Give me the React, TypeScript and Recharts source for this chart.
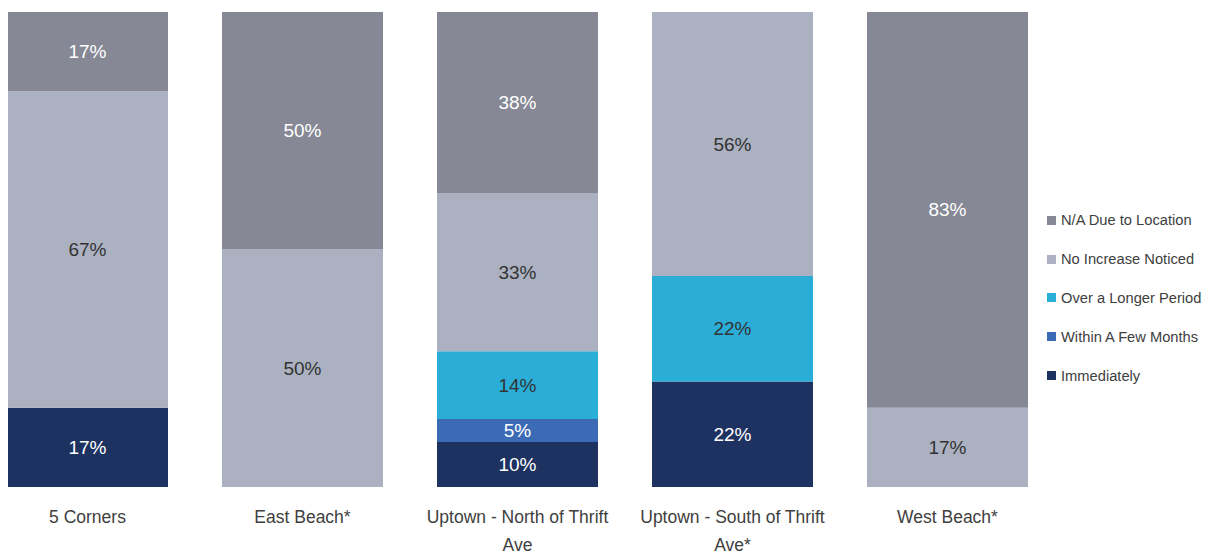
import React from "react";
import { BarChart, Bar, XAxis, YAxis, LabelList } from "recharts";

const categories = [
  "5 Corners",
  "East Beach*",
  "Uptown - North of Thrift Ave",
  "Uptown - South of Thrift Ave*",
  "West Beach*",
];
const immediately = [16.7, 0, 9.5, 22.2, 0];
const withinFewMonths = [0, 0, 4.8, 0, 0];
const overLongerPeriod = [0, 0, 14.3, 22.2, 0];
const noIncreaseNoticed = [66.6, 50, 33.3, 55.6, 16.7];
const naDueToLocation = [16.7, 50, 38.1, 0, 83.3];

const seriesDefs = [
  { key: "imm", name: "Immediately", values: immediately, color: "#1d3260", label: "#ffffff" },
  { key: "few", name: "Within A Few Months", values: withinFewMonths, color: "#3b6bb5", label: "#ffffff" },
  { key: "long", name: "Over a Longer Period", values: overLongerPeriod, color: "#2aaed8", label: "#333333" },
  { key: "noinc", name: "No Increase Noticed", values: noIncreaseNoticed, color: "#abb1c1", label: "#333333" },
  { key: "na", name: "N/A Due to Location", values: naDueToLocation, color: "#868995", label: "#ffffff" },
];

const rows = categories.map((c, i) => {
  const r: any = { name: c };
  seriesDefs.forEach((s) => (r[s.key] = s.values[i]));
  return r;
});

const FONT = "'Liberation Sans', Arial, sans-serif";

function wrap(text: string, maxChars: number): string[] {
  const words = text.split(" ");
  const lines: string[] = [];
  let cur = "";
  words.forEach((w) => {
    const t = cur ? cur + " " + w : w;
    if (t.length > maxChars && cur) {
      lines.push(cur);
      cur = w;
    } else cur = t;
  });
  if (cur) lines.push(cur);
  return lines;
}

const Tick = (props: any) => {
  const { x, y, payload } = props;
  const lines = wrap(String(payload.value), 25);
  return (
    <text x={x} y={y} textAnchor="middle" fill="#404040" fontSize={17.5} fontFamily={FONT}>
      {lines.map((l, i) => (
        <tspan key={i} x={x} y={y + 28 + i * 28}>
          {l}
        </tspan>
      ))}
    </text>
  );
};

const makeLabel = (color: string) => (props: any) => {
  const { x, y, width, height, value } = props;
  if (!value) return null;
  return (
    <text
      x={x + width / 2}
      y={y + height / 2}
      textAnchor="middle"
      dominantBaseline="central"
      fill={color}
      fontSize={19}
      fontFamily={FONT}
    >
      {Math.round(value) + "%"}
    </text>
  );
};

const LegendBlock = () => (
  <div
    style={{
      position: "absolute",
      left: 1067,
      top: 193,
      fontFamily: FONT,
      fontSize: 14.7,
      color: "#404040",
    }}
  >
    {[...seriesDefs].reverse().map((s) => (
      <div key={s.key} style={{ display: "flex", alignItems: "center", height: 38.8 }}>
        <span style={{ display: "inline-block", width: 9, height: 9, background: s.color, marginRight: 5 }} />
        <span style={{ whiteSpace: "nowrap" }}>{s.name}</span>
      </div>
    ))}
  </div>
);

export default function App() {
  return (
    <div style={{ marginLeft: -28, position: "relative", width: 1231, height: 547 }}>
      <BarChart
        width={1231}
        height={547}
        data={rows}
        margin={{ top: 4, right: 156, bottom: 0, left: 0 }}
      >
        <XAxis dataKey="name" axisLine={false} tickLine={false} tick={<Tick />} interval={0} height={68} />
        <YAxis hide domain={[0, 100]} />
        {seriesDefs.map((s) => (
          <Bar key={s.key} dataKey={s.key} name={s.name} stackId="a" fill={s.color} barSize={161} isAnimationActive={false}>
            <LabelList dataKey={s.key} content={makeLabel(s.label)} />
          </Bar>
        ))}
      </BarChart>
      <LegendBlock />
    </div>
  );
}
